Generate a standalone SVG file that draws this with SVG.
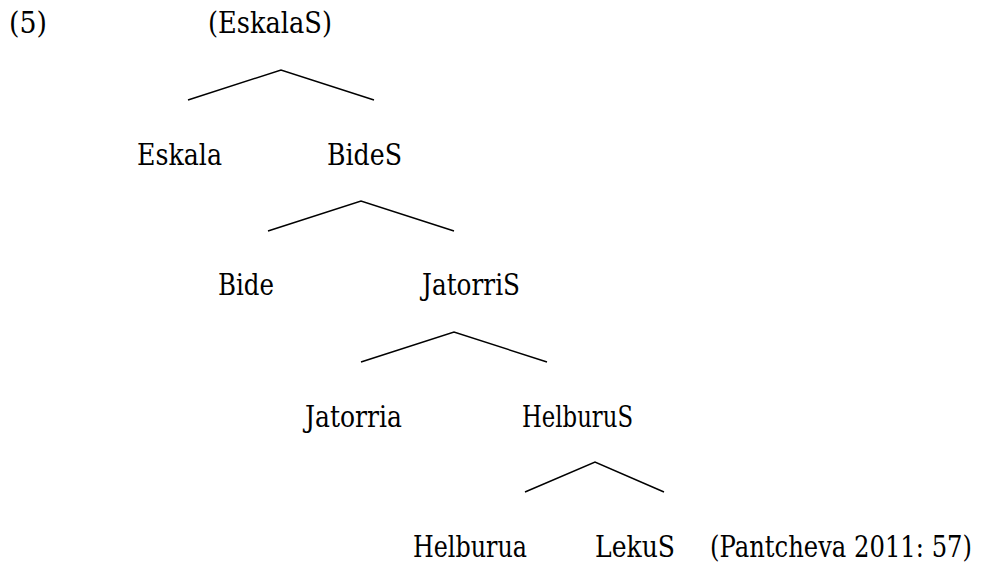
<svg xmlns="http://www.w3.org/2000/svg" width="984" height="565" viewBox="0 0 984 565">
  <style>
    .lbl { font-family: 'DejaVu Serif', serif; font-size: 29px; fill: #000; }
    .branch { fill: none; stroke: #000; stroke-width: 1.5; stroke-linejoin: miter; }
  </style>
  <rect width="984" height="565" fill="#fff"/>

  <g id="example-number"><text class="lbl" x="9" y="33" textLength="38" lengthAdjust="spacingAndGlyphs">(5)</text></g>

  <g id="eskalaS"><text class="lbl" x="208" y="33" textLength="124" lengthAdjust="spacingAndGlyphs">(EskalaS)</text></g>
  <g id="eskala"><text class="lbl" x="137" y="165" textLength="85" lengthAdjust="spacingAndGlyphs">Eskala</text></g>
  <g id="bideS"><text class="lbl" x="327" y="165" textLength="75" lengthAdjust="spacingAndGlyphs">BideS</text></g>
  <g id="bide"><text class="lbl" x="218" y="295" textLength="56" lengthAdjust="spacingAndGlyphs">Bide</text></g>
  <g id="jatorriS"><text class="lbl" x="422" y="295" textLength="98" lengthAdjust="spacingAndGlyphs">JatorriS</text></g>
  <g id="jatorria"><text class="lbl" x="305" y="427" textLength="97" lengthAdjust="spacingAndGlyphs">Jatorria</text></g>
  <g id="helburuS"><text class="lbl" x="522" y="427" textLength="111" lengthAdjust="spacingAndGlyphs">HelburuS</text></g>
  <g id="helburua"><text class="lbl" x="413" y="557" textLength="114" lengthAdjust="spacingAndGlyphs">Helburua</text></g>
  <g id="lekuS"><text class="lbl" x="595" y="557" textLength="80" lengthAdjust="spacingAndGlyphs">LekuS</text></g>
  <g id="citation"><text class="lbl" x="710" y="557" textLength="262" lengthAdjust="spacingAndGlyphs">(Pantcheva 2011: 57)</text></g>

  <g id="connectors">
    <polyline class="branch" points="188,100 281,70 374,100"/>
    <polyline class="branch" points="268,231 361,201 454,231"/>
    <polyline class="branch" points="361,362 454,332 547,362"/>
    <polyline class="branch" points="525,492 595,462 664,492"/>
  </g>
</svg>
